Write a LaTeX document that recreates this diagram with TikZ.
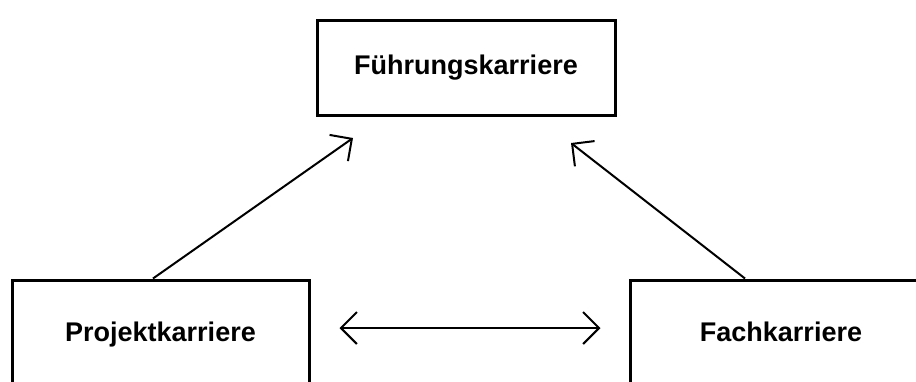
\documentclass[tikz,border=0pt]{standalone}
\usepackage{fontspec}
\setmainfont{Liberation Sans}
\usetikzlibrary{arrows.meta}
\tikzset{
  careerbox/.style={draw=black, line width=3pt, fill=white, inner sep=0pt,
    font=\fontsize{27}{31}\selectfont\bfseries},
  link/.style={line width=2pt, -{Straight Barb[length=16pt,width=32pt,line width=2pt]}},
  twoway/.style={line width=2pt, {Straight Barb[length=16pt,width=32pt,line width=2pt]}-{Straight Barb[length=16pt,width=32pt,line width=2pt]}}
}
\begin{document}
\begin{tikzpicture}[x=1pt,y=-1pt]
  \useasboundingbox (0,0) rectangle (916,381);
  \clip (0,0) rectangle (916,381);
  \fill[white] (0,0) rectangle (916,381);

  % career boxes
  \node[careerbox, minimum width=298pt, minimum height=95pt] (fk0) at (466,67.5) {Führungskarriere};
  \node[careerbox, minimum width=297pt, minimum height=110pt] (pk) at (160.5,335) {Projektkarriere};
  \node[careerbox, minimum width=302pt, minimum height=104pt] (fk) at (781,332) {Fachkarriere};

  % loose arrow ends below the top box
  \coordinate (tipL) at (353,138);
  \coordinate (tipR) at (571,143);

  \draw[link] ([xshift=-7.5pt]pk.north) -- (tipL);
  \draw[link] ([xshift=-36pt]fk.north) -- (tipR);
  \draw[twoway] ([shift={(29,-7)}]pk.east) -- ([shift={(-28,-4)}]fk.west);
\end{tikzpicture}
\end{document}
